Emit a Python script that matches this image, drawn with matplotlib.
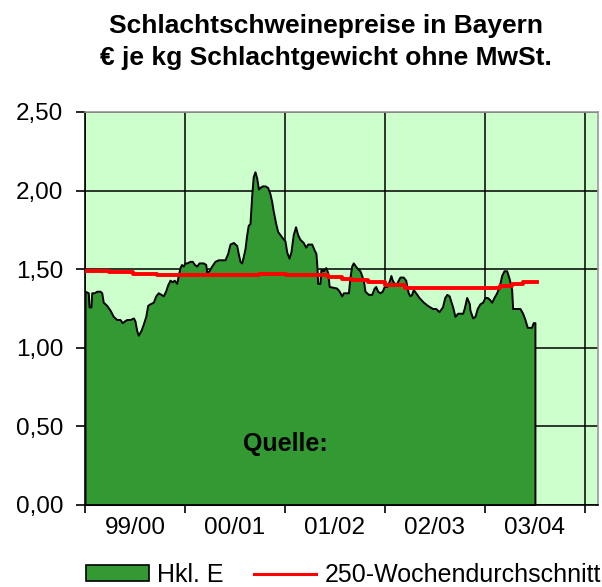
import matplotlib
matplotlib.use("Agg")
import matplotlib.pyplot as plt
from matplotlib.patches import Patch
from matplotlib.lines import Line2D

# Daten (Woche seit Beginn 99/00, Preis in EUR/kg)
weeks = [0, 1.7, 2.1, 3.1, 3.5, 4.8, 6.1, 7.8, 8.7, 9.5, 11.3, 13.0, 14.7, 16.5,
         18.2, 19.4, 20.4, 21.7, 23.4, 25.2, 26.0, 26.9, 27.7, 29.1, 30.3, 31.6,
         32.6, 33.8, 35.5, 36.8, 38.1, 39.5, 40.7, 41.9, 43.0, 44.2, 45.4, 46.4,
         47.7, 48.5, 49.4, 50.2, 51.1, 52.0, 53.0, 54.6, 55.8, 56.9, 58.1, 59.3,
         61.6, 62.8, 63.3, 64.5, 65.9, 67.6, 69.4, 72.8, 74.2, 75.4, 77.2, 78.9,
         79.7, 80.6, 81.5, 82.3, 83.2, 84.1, 84.9, 85.8, 86.7, 87.5, 88.4, 89.3,
         90.2, 91.0, 92.2, 93.6, 95.0, 96.2, 97.1, 97.9, 99.2, 100.2, 101.4, 102.6,
         104.0, 104.9, 106.1, 107.1, 108.3, 109.5, 110.6, 111.8, 113.5, 114.8,
         115.8, 117.9, 119.3, 120.1, 120.6, 121.0, 122.2, 122.7, 123.9, 125.2,
         126.2, 127.0, 130.9, 132.2, 133.5, 134.4, 137.0, 137.8, 138.7, 139.5,
         141.3, 143.0, 144.2, 144.9, 145.6, 147.4, 149.1, 150.4, 151.2, 152.2,
         153.4, 154.6, 155.6, 156.9, 158.1, 159.1, 159.8, 160.8, 162.1, 162.9,
         163.8, 165.5, 166.8, 167.4, 168.1, 169.0, 169.9, 170.7, 172.0, 173.7,
         176.0, 178.1, 180.7, 182.4, 184.1, 185.9, 187.1, 188.2, 189.4, 191.2,
         192.4, 193.8, 196.4, 197.2, 198.5, 199.9, 200.2, 201.6, 202.8, 204.0,
         205.4, 206.8, 208.0, 209.2, 210.2, 211.5, 212.7, 214.1, 215.4, 216.7,
         217.9, 219.3, 220.6, 221.9, 222.4, 226.2, 227.6, 228.8, 230.0, 232.2,
         233.1, 234.0]
preise = [1.36, 1.35, 1.26, 1.26, 1.35, 1.35, 1.36, 1.36, 1.35, 1.29, 1.27, 1.24,
          1.20, 1.18, 1.18, 1.16, 1.17, 1.18, 1.18, 1.19, 1.17, 1.11, 1.08, 1.11,
          1.15, 1.20, 1.27, 1.28, 1.29, 1.33, 1.35, 1.34, 1.33, 1.36, 1.40, 1.43,
          1.42, 1.43, 1.41, 1.46, 1.51, 1.53, 1.52, 1.54, 1.54, 1.55, 1.55, 1.53,
          1.52, 1.54, 1.54, 1.53, 1.48, 1.49, 1.52, 1.55, 1.56, 1.56, 1.60, 1.66,
          1.67, 1.65, 1.60, 1.55, 1.54, 1.58, 1.63, 1.72, 1.78, 1.79, 1.97, 2.09,
          2.12, 2.08, 2.01, 2.02, 2.03, 2.03, 2.02, 1.98, 1.93, 1.87, 1.79, 1.74,
          1.72, 1.70, 1.68, 1.61, 1.57, 1.61, 1.72, 1.77, 1.72, 1.69, 1.67, 1.64,
          1.66, 1.66, 1.62, 1.60, 1.52, 1.41, 1.41, 1.50, 1.49, 1.51, 1.48, 1.39,
          1.38, 1.36, 1.33, 1.35, 1.35, 1.45, 1.52, 1.54, 1.51, 1.49, 1.45, 1.42,
          1.36, 1.34, 1.34, 1.38, 1.39, 1.36, 1.35, 1.36, 1.39, 1.39, 1.42, 1.46,
          1.43, 1.41, 1.41, 1.43, 1.45, 1.45, 1.43, 1.39, 1.35, 1.33, 1.34, 1.37,
          1.35, 1.32, 1.29, 1.27, 1.25, 1.25, 1.23, 1.26, 1.32, 1.34, 1.33, 1.26,
          1.20, 1.22, 1.22, 1.25, 1.32, 1.28, 1.24, 1.19, 1.20, 1.25, 1.28, 1.29,
          1.32, 1.32, 1.31, 1.29, 1.32, 1.35, 1.39, 1.46, 1.49, 1.49, 1.44, 1.37,
          1.25, 1.25, 1.22, 1.18, 1.13, 1.13, 1.16, 1.16]

# 250-Wochendurchschnitt (Stufen)
ma_weeks = [0, 12.5, 25.0, 37.3, 90.5, 104.4, 126.4, 133.5, 138.7, 147.1,
            156.0, 166.4, 215.8, 221.9, 227.9, 235.3]
ma_werte = [1.49, 1.48, 1.47, 1.46, 1.47, 1.46, 1.45, 1.44, 1.43, 1.42,
            1.40, 1.38, 1.395, 1.405, 1.42, 1.42]

saisons = ["99/00", "00/01", "01/02", "02/03", "03/04"]
y_ticks = [0.0, 0.5, 1.0, 1.5, 2.0, 2.5]

plt.rcParams['font.family'] = ['Liberation Sans', 'DejaVu Sans']

fig = plt.figure(figsize=(6.02, 5.87), dpi=100)
ax = fig.add_axes([85 / 602, 1 - 505 / 587, 513 / 602, 393 / 587])
ax.set_facecolor('#CCFFCC')

ax.fill_between(weeks, preise, 0, facecolor='#339933', edgecolor='black',
                linewidth=1.4, zorder=2)
ax.step(ma_weeks, ma_werte, where='post', color='#FF0000', linewidth=2.8, zorder=3)

ax.text(82, 0.39, "Quelle:", fontsize=18, fontweight='bold', va='center', zorder=4)

ax.set_xlim(0, 266.8)
ax.set_ylim(0, 2.5)
ax.set_yticks(y_ticks)
ax.set_yticklabels([f"{v:.2f}".replace('.', ',') for v in y_ticks])
ax.set_xticks([52 * i for i in range(6)])
ax.set_xticklabels([])
ax.set_xticks([52 * i + 26 for i in range(5)], minor=True)
ax.set_xticklabels(saisons, minor=True)
ax.tick_params(axis='x', which='major', length=6, width=1.2, direction='out')
ax.tick_params(axis='x', which='minor', length=0, pad=9, labelsize=17.5)
ax.tick_params(axis='y', length=6.5, width=1.2, direction='out', pad=9, labelsize=17.5)
ax.grid(True, which='major', color='black', linewidth=1.1)
ax.set_axisbelow(True)

for side in ['left', 'bottom']:
    ax.spines[side].set_color('black')
    ax.spines[side].set_linewidth(1.2)
for side in ['top', 'right']:
    ax.spines[side].set_color('#999999')
    ax.spines[side].set_linewidth(1.2)

fig.text(326 / 602, 1 - 14 / 587,
         "Schlachtschweinepreise in Bayern\n€ je kg Schlachtgewicht ohne MwSt.",
         ha='center', va='top', fontsize=19, fontweight='bold', linespacing=1.4)

handles = [Patch(facecolor='#339933', edgecolor='black', linewidth=1.2),
           Line2D([0], [0], color='#FF0000', linewidth=2.2)]
fig.legend(handles, ["Hkl. E", "250-Wochendurchschnitt"], loc='center left',
           bbox_to_anchor=(86 / 602, 12 / 587), ncol=2, frameon=False,
           fontsize=18, handlelength=2.5, handleheight=0.62, handletextpad=0.35,
           columnspacing=1.2, borderpad=0, borderaxespad=0)

fig.savefig("out.png", dpi=100)
